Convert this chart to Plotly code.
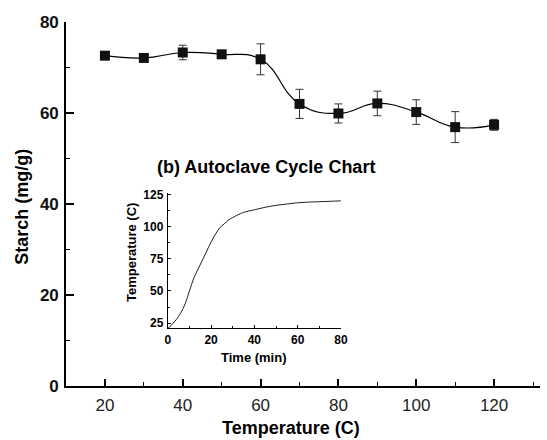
import plotly.graph_objects as go

# Main series
temp_c = [20, 30, 40, 50, 60, 70, 80, 90, 100, 110, 120]
starch = [72.6, 72.1, 73.3, 72.9, 71.8, 62.0, 59.9, 62.1, 60.2, 56.9, 57.4]
starch_err = [0.0, 0.0, 1.6, 0.0, 3.4, 3.2, 2.1, 2.7, 2.7, 3.4, 1.2]

# Inset: autoclave cycle
time_min = [0, 2, 4, 6, 8, 10, 12, 14, 16, 18, 20, 22, 24, 26, 28, 30, 35, 40, 45, 50, 55, 60, 65, 70, 75, 80]
cycle_temp = [21, 24, 28, 33, 40, 50, 60, 67, 74, 81, 88, 94, 99, 102, 105, 107, 111, 113, 115, 116.5, 117.5, 118.5, 119, 119.3, 119.6, 120]

FONT = "Liberation Sans, Arial, sans-serif"

fig = go.Figure()
fig.add_trace(go.Scatter(
    x=temp_c, y=starch, mode="lines+markers",
    line=dict(color="black", width=1.2, shape="spline", smoothing=1.3),
    marker=dict(symbol="square", size=10, color="#111111"),
    error_y=dict(type="data", array=starch_err, visible=True, color="#333333", thickness=1, width=4),
    xaxis="x", yaxis="y", showlegend=False,
))
fig.add_trace(go.Scatter(
    x=time_min, y=cycle_temp, mode="lines",
    line=dict(color="#222222", width=1, shape="spline", smoothing=1.0),
    xaxis="x2", yaxis="y2", showlegend=False,
))

axis_common = dict(showline=True, linecolor="black", showgrid=False, zeroline=False, ticks="inside", tickcolor="black", mirror=False)

fig.update_layout(
    width=547, height=440,
    margin=dict(l=66, r=0, t=22, b=54),
    paper_bgcolor="white", plot_bgcolor="white",
    font=dict(family=FONT, color="black"),
    xaxis=dict(**axis_common, domain=[0, 1], range=[10, 131.8], tick0=20, dtick=20, linewidth=1.6,
               ticklen=7, tickwidth=1.5, tickfont=dict(size=17, family=FONT, color="#222222"),
               minor=dict(ticks="inside", dtick=10, tick0=10, ticklen=4, tickcolor="black", tickwidth=1.2),
               ticklabelstandoff=3, anchor="y"),
    yaxis=dict(**axis_common, domain=[0, 1], range=[0, 80], dtick=20, linewidth=1.6,
               ticklen=8, tickwidth=1.5, tickfont=dict(size=17, family=FONT, weight="bold", color="#111111"),
               minor=dict(ticks="inside", dtick=10, ticklen=4, tickcolor="black", tickwidth=1.2),
               ticklabelstandoff=2, anchor="x"),
    xaxis2=dict(**axis_common, domain=[0.2148, 0.580], range=[0, 80], dtick=20, linewidth=1.2,
                ticklen=3, tickwidth=1, tickfont=dict(size=12, family=FONT, weight="bold"),
                minor=dict(ticks="inside", dtick=10, ticklen=2, tickcolor="black"),
                ticklabelstandoff=0, anchor="y2"),
    yaxis2=dict(**axis_common, domain=[0.1585, 0.530], range=[21, 126], tick0=25, dtick=25, linewidth=1.2,
                ticklen=3, tickwidth=1, tickfont=dict(size=12, family=FONT, weight="bold"),
                minor=dict(ticks="inside", dtick=12.5, tick0=12.5, ticklen=2, tickcolor="black"),
                ticklabelstandoff=1, anchor="x2"),
    annotations=[
        dict(text="Temperature (C)", x=294, y=428, showarrow=False,
             font=dict(size=18, family=FONT, weight="bold")),
        dict(text="Starch (mg/g)", x=21, y=207, textangle=-90, showarrow=False,
             font=dict(size=18, family=FONT, weight="bold")),
        dict(text="(b) Autoclave Cycle Chart", x=269, y=167, showarrow=False,
             font=dict(size=18, family=FONT, weight="bold")),
        dict(text="Time (min)", x=257, y=357, showarrow=False,
             font=dict(size=13, family=FONT, weight="bold")),
        dict(text="Temperature (C)", x=132, y=253, textangle=-90, showarrow=False,
             font=dict(size=13, family=FONT, weight="bold")),
    ],
)

# convert pixel positions of annotations to paper coords
W, H = 547, 440
L, R, T, B = 66, 0, 22, 54
pw, ph = W - L - R, H - T - B
for a in fig.layout.annotations:
    a.x = (a.x - L) / pw
    a.y = (H - B - a.y) / ph
    a.xref = "paper"; a.yref = "paper"
    a.xanchor = "center"; a.yanchor = "middle"

fig.write_html("out.html")
